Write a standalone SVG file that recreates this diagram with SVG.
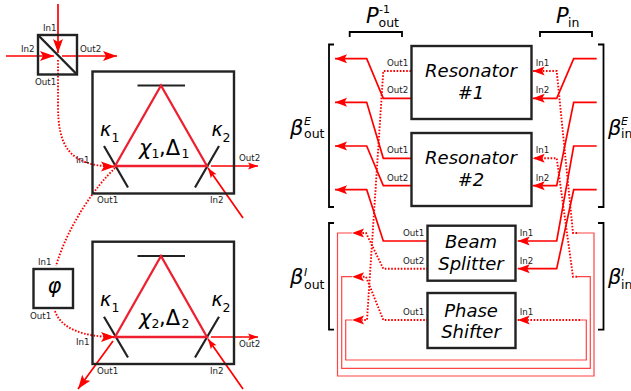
<svg xmlns="http://www.w3.org/2000/svg" width="631" height="391" viewBox="0 0 631 391">
<style>
text{font-family:"DejaVu Sans",sans-serif;fill:#222}
.l{font-size:8.7px}
.t{font-size:18px;font-style:italic;fill:#000;text-anchor:middle}
.m{font-size:21px;font-style:italic;fill:#000}
.k{font-size:19px;font-style:italic;fill:#000}
.s{font-size:12.5px;font-style:normal}
.u{font-size:11px;font-style:normal}
.e{font-size:11px;font-style:italic}
.box{fill:none;stroke:#222;stroke-width:2.4}
.brk{fill:none;stroke:#000;stroke-width:1.8}
.mir{fill:none;stroke:#222;stroke-width:2.2}
.tri{fill:none;stroke:#ee2030;stroke-width:2.3}
.r{fill:none;stroke:#f00;stroke-width:1.7}
.d{fill:none;stroke:#f00;stroke-width:1.9;stroke-dasharray:1.6 1.6}
.a{marker-end:url(#ah)}
.b{marker-end:url(#ab)}
.c{marker-end:url(#ac)}
.th{fill:none;stroke:#f44;stroke-width:1.2}
</style>
<defs>
<marker id="ah" markerUnits="userSpaceOnUse" markerWidth="14" markerHeight="12" refX="13" refY="5.5" orient="auto"><path d="M13,5.5 L1,1 L3.5,5.5 L1,10 Z" fill="#f00"/></marker>
<marker id="ab" markerUnits="userSpaceOnUse" markerWidth="16" markerHeight="12" refX="15" refY="5.5" orient="auto"><path d="M15,5.5 L1,0.5 L4,5.5 L1,10.5 Z" fill="#f00"/></marker>
<marker id="ac" markerUnits="userSpaceOnUse" markerWidth="12" markerHeight="10" refX="11" refY="4" orient="auto"><path d="M11,4 L1,0.5 L3,4 L1,7.5 Z" fill="#f00"/></marker>
</defs>

<g id="connectors">
<path class="r b" d="M58,4 V53"/>
<path class="r b" d="M6,56 H54"/>
<path class="r b" d="M62,56 H117"/>
<path class="d b" d="M58,60 V105 C58,145 68,166.5 115,166.5"/>
<path class="d" d="M115,168 C96,186 68,225 56,266"/>
<path class="d b" d="M55,311 C61,329 84,337 115,337"/>
<path class="r b" d="M113,341 L78,389"/>
<path class="r c" d="M211,166 H258"/>
<path class="r c" d="M243,218 L208,168"/>
<path class="r c" d="M211,337 H258"/>
<path class="r c" d="M243,389 L208,339"/>

<path class="r a" d="M411,98.3 H383.3 L366.7,58.7 H335"/>
<path class="r a" d="M411,158.3 H383.3 L366.7,102.3 H335"/>
<path class="r a" d="M411,185.7 H383.3 L366.7,146 H335"/>
<path class="r a" d="M428,241 H383.3 L366.7,189.7 H335"/>
<path class="d" d="M411,71 H383.3 L367,320 H362"/>
<path class="d" d="M428,268.7 H383.3 L366,233 H362"/>
<path class="d" d="M428,320 H383.3 L366,276.7 H362"/>
<path class="th" d="M352,233 H337.5 V376 H594 V233 H577"/>
<path class="th" d="M352,276.7 H341.7 V368.3 H590.3 V276.7 H577"/>
<path class="th" d="M352,320 H345.7 V360 H586.3 V320 H580"/>
<path fill="#f00" d="M352,233 L364,228.5 L361.5,233 L364,237.5 Z M352,276.7 L364,272.2 L361.5,276.7 L364,281.2 Z M352,320 L364,315.5 L361.5,320 L364,324.5 Z"/>

<path class="r a" d="M596.7,58.7 H573.7 L556.7,98.3 H532.7"/>
<path class="r a" d="M596.7,102.3 H573.7 L556.7,185.7 H532.7"/>
<path class="r a" d="M596.7,146 H573.7 L556.7,241 H517.7"/>
<path class="r a" d="M596.7,189.7 H573.7 L556.7,268.7 H517.7"/>
<path class="d a" d="M577,233 H573 L556.7,71 H532.7"/>
<path class="d a" d="M577,276.7 H573 L556.7,158.3 H532.7"/>
<path class="d a" d="M580,320 H517.7"/>
</g>

<g id="beam-splitter-left">
<rect class="box" x="38" y="35" width="39" height="39.5"/>
<path class="box" d="M38,35 L77,74.5"/>
<text class="l" x="43" y="31">In1</text><text class="l" x="21" y="52">In2</text><text class="l" x="80" y="52">Out2</text><text class="l" x="35" y="85">Out1</text>
</g>

<g id="resonator-top">
<rect class="box" x="92.5" y="71.5" width="141.5" height="122"/>
<path class="mir" d="M137.5,85.5 H185 M104,146 L128,187.5 M219,146 L195,187.5"/>
<path class="tri" d="M161,85.5 L115,166 H207 Z"/>
<text class="k" x="100" y="136">κ<tspan class="s" x="111.500" y="142">1</tspan></text>
<text class="k" x="211.500" y="136">κ<tspan class="s" x="222.500" y="142">2</tspan></text>
<text class="m" x="139" y="155">χ<tspan class="s" x="151.500" y="158">1</tspan><tspan x="159" y="155" font-style="normal">,Δ</tspan><tspan class="s" x="181.500" y="158">1</tspan></text>
<text class="l" x="76" y="163">In1</text><text class="l" x="97" y="203">Out1</text><text class="l" x="210" y="203">In2</text><text class="l" x="239" y="161">Out2</text>
</g>

<g id="phase-left">
<rect class="box" x="33.5" y="269" width="39.5" height="39"/>
<text class="m" x="47.500" y="292.500">φ</text>
<text class="l" x="38" y="265">In1</text><text class="l" x="30" y="319">Out1</text>
</g>

<g id="resonator-bottom">
<rect class="box" x="92.5" y="241.7" width="141.5" height="122.3"/>
<path class="mir" d="M137.5,256 H185 M104,316.7 L128,357.5 M219,316.7 L195,357.5"/>
<path class="tri" d="M161,256 L115,337 H207 Z"/>
<text class="k" x="100" y="306">κ<tspan class="s" x="111.500" y="312">1</tspan></text>
<text class="k" x="211.500" y="306">κ<tspan class="s" x="222.500" y="312">2</tspan></text>
<text class="m" x="139" y="325">χ<tspan class="s" x="151.500" y="328">2</tspan><tspan x="159" y="325" font-style="normal">,Δ</tspan><tspan class="s" x="181.500" y="328">2</tspan></text>
<text class="l" x="76" y="345">In1</text><text class="l" x="97" y="374">Out1</text><text class="l" x="210" y="374">In2</text><text class="l" x="239" y="347">Out2</text>
</g>

<g id="resonator-1">
<rect class="box" x="411.5" y="46" width="120" height="73"/>
<text class="t" x="471" y="77">Resonator</text><text class="t" x="471" y="99">#1</text>
<text class="l" x="387" y="65.7">Out1</text><text class="l" x="387" y="93">Out2</text><text class="l" x="535.7" y="65.7">In1</text><text class="l" x="535.7" y="93">In2</text>
</g>
<g id="resonator-2">
<rect class="box" x="411.5" y="133" width="120" height="73"/>
<text class="t" x="471" y="163.500">Resonator</text><text class="t" x="471" y="186">#2</text>
<text class="l" x="387" y="153">Out1</text><text class="l" x="387" y="180.5">Out2</text><text class="l" x="535.7" y="153">In1</text><text class="l" x="535.7" y="180.5">In2</text>
</g>
<g id="beam-splitter">
<rect class="box" x="427.5" y="225.7" width="88" height="55"/>
<text class="t" x="471" y="247.700">Beam</text><text class="t" x="471" y="269.500">Splitter</text>
<text class="l" x="403" y="236">Out1</text><text class="l" x="403" y="264">Out2</text><text class="l" x="519.7" y="236">In1</text><text class="l" x="519.7" y="264">In2</text>
</g>
<g id="phase-shifter">
<rect class="box" x="427.5" y="293" width="88" height="55"/>
<text class="t" x="471" y="316.500">Phase</text><text class="t" x="471" y="338">Shifter</text>
<text class="l" x="403" y="315">Out1</text><text class="l" x="519.7" y="315">In1</text>
</g>

<g id="brackets">
<path class="brk" d="M349.7,37 V32 H402 V37"/>
<path class="brk" d="M540,37 V32 H592 V37"/>
<path class="brk" d="M334,44.5 H329 V207 H334"/>
<path class="brk" d="M598,44.5 H603.5 V207 H598"/>
<path class="brk" d="M334,223 H329 V329.7 H334"/>
<path class="brk" d="M598,223 H603.5 V329.7 H598"/>
<text class="m" x="366" y="23">P<tspan class="s" x="378.500" y="26.700">out</tspan><tspan class="u" x="379" y="13">-1</tspan></text>
<text class="m" x="556" y="23">P<tspan class="s" x="568" y="26.700">in</tspan></text>
<text class="m" x="290" y="135">β<tspan class="s" x="304" y="138">out</tspan><tspan class="e" x="304" y="125">E</tspan></text>
<text class="m" x="608" y="135">β<tspan class="s" x="621" y="138">in</tspan><tspan class="e" x="621" y="125">E</tspan></text>
<text class="m" x="290" y="284">β<tspan class="s" x="304" y="289">out</tspan><tspan class="e" x="304" y="276">I</tspan></text>
<text class="m" x="608" y="284">β<tspan class="s" x="621" y="289">in</tspan><tspan class="e" x="621" y="276">I</tspan></text>
</g>
</svg>
